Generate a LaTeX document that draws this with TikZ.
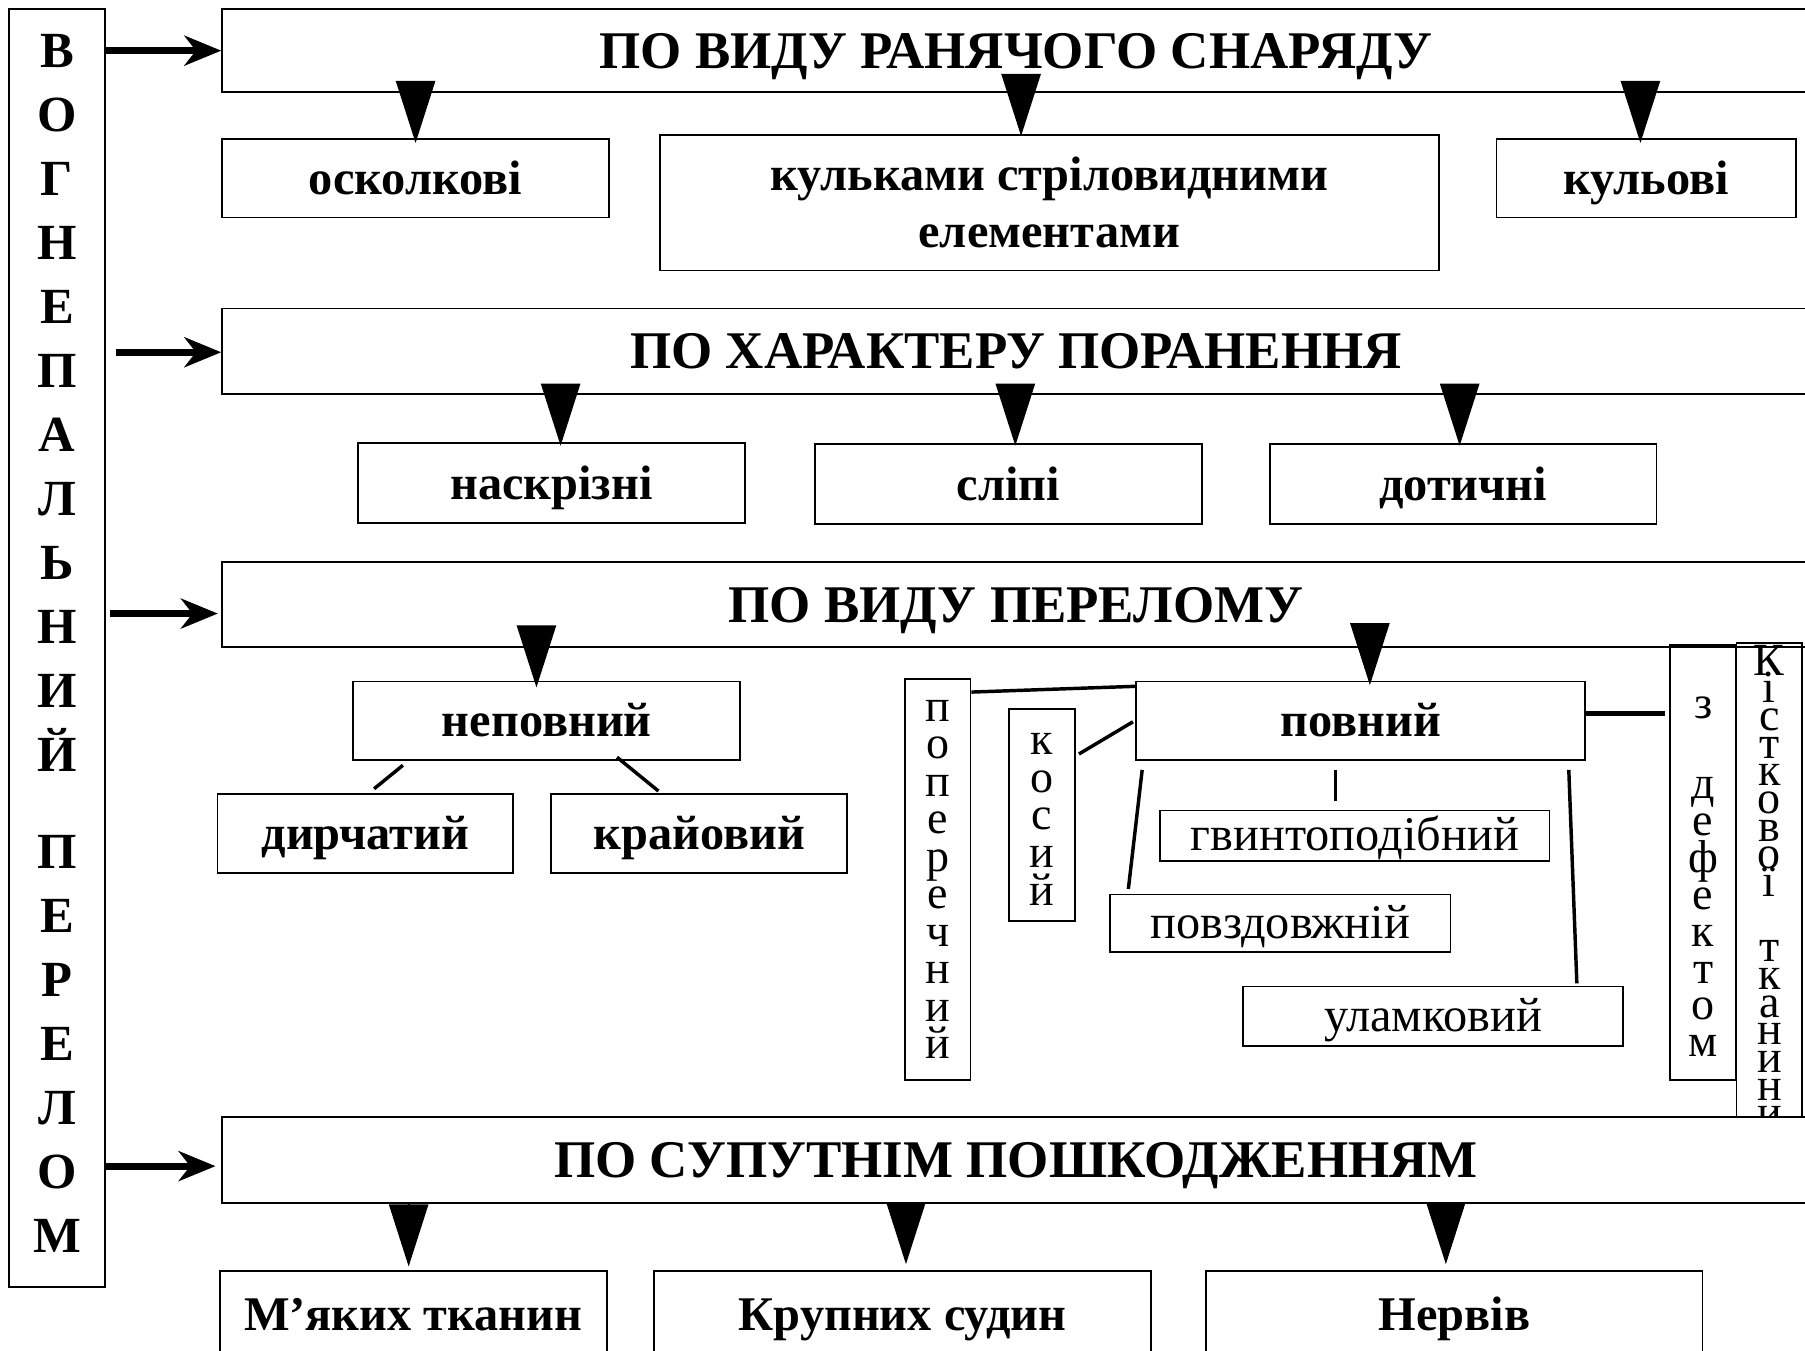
\documentclass[tikz,border=0pt]{standalone}
\usepackage{fontspec}
\setmainfont{Liberation Serif}
\usetikzlibrary{arrows.meta,calc}
\tikzset{
  bx/.style={draw,line width=0.8pt,inner sep=2pt,align=center},
  hdr/.style={bx,fill=white,text height=20.5pt,text depth=5pt,
    font=\bfseries\fontsize{23}{27}\selectfont},
  subb/.style={bx,font=\bfseries\fontsize{21}{25}\selectfont},
  sub/.style={subb,text height=18.7pt,text depth=4.5pt},
  lit/.style={bx,inner ysep=0pt,text height=17.5pt,text depth=4.5pt,
    font=\fontsize{21}{24}\selectfont},
  vbx/.style={bx,inner sep=1pt,minimum width=28.5pt},
  dn/.style={-{Triangle[length=27pt,width=17pt]},line width=1pt},
  hr/.style={-{Stealth[length=16pt,width=13pt,inset=5pt]},line width=3pt},
  ln/.style={line width=1.5pt},
}
\newcommand{\vfont}[1]{\fontsize{20}{#1}\selectfont\lineskiplimit=-100pt}

\begin{document}
\begin{tikzpicture}[x=0.5pt,y=-0.5pt]
  \useasboundingbox (0,0) rectangle (1568,1173);
  % left column
  \node[bx,minimum width=41.5pt,minimum height=555pt,
    font=\bfseries\fontsize{22}{27.8}\selectfont] (vert) at (49.5,563)
    {В\\О\\Г\\Н\\Е\\П\\А\\Л\\Ь\\Н\\И\\Й\\[14.6pt]П\\Е\\Р\\Е\\Л\\О\\М\rule[-4pt]{0pt}{1pt}};

  % by projectile
  \node[hdr,minimum width=689.5pt,minimum height=36pt] (h1) at (882.5,44) {ПО ВИДУ РАНЯЧОГО СНАРЯДУ};
  \node[sub,minimum width=168pt,minimum height=34pt] (oskol) at (361,155) {осколкові};
  \node[subb,minimum width=338.5pt,minimum height=59pt] (kulk) at (911.5,176) {кульками стріловидними\\елементами};
  \node[sub,minimum width=130pt,minimum height=34pt] (kul) at (1430,155) {кульові};

  % by wound
  \node[hdr,minimum width=689.5pt,minimum height=37pt] (h2) at (882.5,305) {ПО ХАРАКТЕРУ ПОРАНЕННЯ};
  \node[sub,minimum width=168pt,minimum height=34.5pt] (naskr) at (479,419.5) {наскрізні};
  \node[sub,minimum width=168pt,minimum height=34.5pt] (slipi) at (876,420.5) {сліпі};
  \node[sub,minimum width=168pt,minimum height=34.5pt] (dotych) at (1271,420.5) {дотичні};

  % by fracture
  \node[hdr,minimum width=689.5pt,minimum height=37pt] (h3) at (882.5,525) {ПО ВИДУ ПЕРЕЛОМУ};
  \node[sub,minimum width=168pt,minimum height=34pt] (nepov) at (475,626) {неповний};
  \node[sub,minimum width=128.5pt,minimum height=34pt] (dyrch) at (317.5,724) {дирчатий};
  \node[sub,minimum width=128.5pt,minimum height=34pt] (kraj) at (607.5,724) {крайовий};
  \node[sub,minimum width=195pt,minimum height=34pt] (povn) at (1182,626) {повний};
  \node[lit,minimum width=169pt,minimum height=22pt] (gvynt) at (1177,726) {гвинтоподібний};
  \node[lit,minimum width=148pt,minimum height=25pt] (povzd) at (1112,802) {повздовжній};
  \node[lit,minimum width=165pt,minimum height=26pt] (ulamk) at (1245,883) {уламковий};
  \node[vbx,minimum height=174pt,font=\vfont{16.3}] (poper) at (814.5,764)
    {п\\о\\п\\е\\р\\е\\ч\\н\\и\\й};
  \node[vbx,minimum height=92pt,font=\vfont{16.5}] (kosyi) at (905,708)
    {\rule{0pt}{13pt}к\\о\\с\\и\\й};
  \node[vbx,minimum height=189pt,font=\vfont{16}] (defekt) at (1479.5,749)
    {\rule{0pt}{22pt}з\\[19pt]д\\е\\ф\\е\\к\\т\\о\\м};
  \node[vbx,font=\vfont{12}] (kistk) at (1537,770)
    {К\\і\\с\\т\\к\\о\\в\\о\\ї\\[16.5pt]т\\к\\а\\н\\и\\н\\и};

  % by concomitant damage
  \node[hdr,minimum width=689.5pt,minimum height=37.5pt] (h4) at (882.5,1007.5) {ПО СУПУТНІМ ПОШКОДЖЕННЯМ};
  \node[sub,minimum width=168pt,minimum height=38pt] (myak) at (359,1142) {М’яких тканин};
  \node[sub,minimum width=216pt,minimum height=38pt] (krup) at (784,1142) {Крупних судин};
  \node[sub,minimum width=215.5pt,minimum height=38pt] (nerv) at (1263.5,1142) {Нервів};

  % arrows from the left column
  \draw[hr] (vert.east |- h1.west) -- (h1.west);
  \draw[hr] ($(vert.east |- h2.west)+(9,1)$) -- ($(h2.west)+(0,1)$);
  \draw[hr] ($(vert.east |- h3.west)+(4,8)$) -- ($(h3.west)+(-3,8)$);
  \draw[hr] ($(vert.east |- h4.west)+(0,5.5)$) -- ($(h4.west)+(-5,5.5)$);

  % downward arrows
  \draw[dn] ($(h1.south -| oskol.north)+(0,-10)$) -- ($(oskol.north)+(0,4)$);
  \draw[dn] ($(h1.south -| kulk.north)+(-24.5,-10)$) -- ($(kulk.north)+(-24.5,2)$);
  \draw[dn] ($(h1.south -| kul.north)+(-5,-10)$) -- ($(kul.north)+(-5,4)$);
  \draw[dn] ($(h2.south -| naskr.north)+(8,-7)$) -- ($(naskr.north)+(8,3)$);
  \draw[dn] ($(h2.south -| slipi.north)+(6,-7)$) -- ($(slipi.north)+(6,2)$);
  \draw[dn] ($(h2.south -| dotych.north)+(-3,-7)$) -- ($(dotych.north)+(-3,2)$);
  \draw[dn] ($(h3.south -| nepov.north)+(-9,-16)$) -- ($(nepov.north)+(-9,6)$);
  \draw[dn] ($(h3.south -| povn.north)+(8,-22)$) -- ($(povn.north)+(8,4)$);
  \draw[dn] ($(h4.south -| myak.north)+(-4,0)$) -- ($(myak.north)+(-4,-3)$);
  \draw[dn] ($(h4.south -| krup.north)+(3,0)$) -- ($(krup.north)+(3,-5)$);
  \draw[dn] ($(h4.south -| nerv.north)+(-7.5,0)$) -- ($(nerv.north)+(-7.5,-5)$);

  % fracture kinds
  \draw[ln] ($(nepov.south)+(-125,4)$) -- ($(dyrch.north)+(7.5,-4)$);
  \draw[ln] ($(nepov.south)+(61,-3)$) -- ($(kraj.north)+(-35.5,-2)$);
  \draw[ln] ($(poper.north east)+(0,12)$) -- ($(povn.north west)+(0,5)$);
  \draw[ln] ($(kosyi.east)+(3,-53)$) -- ($(povn.west)+(-2,1)$);
  \draw[ln] ($(povn.south)+(-22,8)$) -- ($(gvynt.north)+(-17,-7)$);
  \draw[ln] ($(povn.south west)+(6,8)$) -- ($(povzd.north west)+(17,-4)$);
  \draw[ln] ($(povn.south east)+(-15,8)$) -- ($(ulamk.north east)+(-41,-2)$);
  \draw[line width=2pt] ($(povn.east)+(0,-6)$) -- ($(povn.east -| defekt.west)+(-4,-6)$);
\end{tikzpicture}
\end{document}
